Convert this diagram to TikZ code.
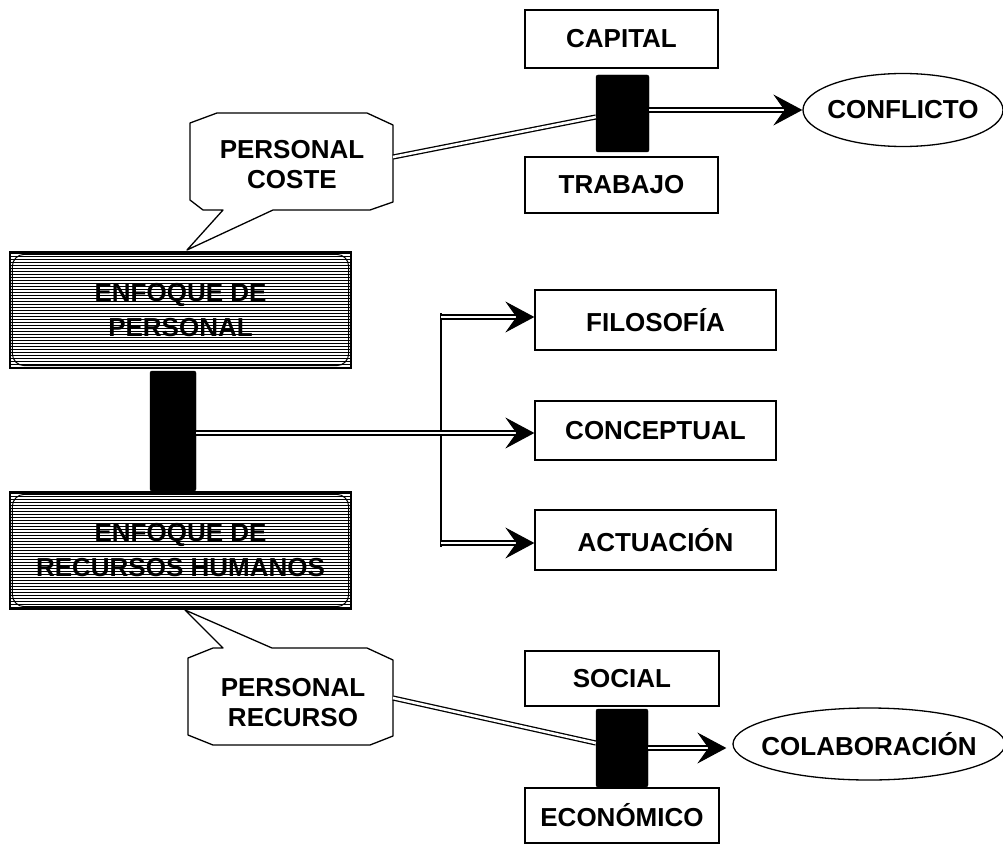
\documentclass[tikz,border=0pt]{standalone}
\usepackage{fontspec}
\setmainfont{Liberation Sans}
\usetikzlibrary{shapes.geometric,arrows.meta}

\tikzset{
  lbl/.style={font=\bfseries\fontsize{26pt}{30pt}\selectfont, align=center},
  box/.style={lbl, draw, line width=1.3pt, inner sep=0pt},
  oval/.style={lbl, draw, ellipse, line width=1.3pt, inner ysep=0pt},
  bar/.style={fill=black, draw=black, rounded corners=2pt, inner sep=0pt},
  striped/.style={lbl, font=\bfseries\fontsize{26pt}{35pt}\selectfont,
    draw, line width=1.3pt, fill=white, inner sep=0pt,
    path picture={
      \foreach \k in {0,...,39}{
        \draw[line width=1.8pt]
          ([yshift=-\k*3pt-1.5pt]path picture bounding box.north west) --
          ([yshift=-\k*3pt-1.5pt]path picture bounding box.north east);
      }
    }},
  dbl/.style={draw=black, line width=1.3pt, double=white, double distance=2.6pt},
  tipline/.style={line width=1pt, -{Stealth[length=29pt,width=31pt,inset=11pt]}},
  callout/.style={draw, line width=1.3pt, fill=white, line join=round},
}

\begin{document}
\begin{tikzpicture}[x=1pt,y=-1pt]
\useasboundingbox (0,0) rectangle (1003,845);

% ---- upper branch: capital / trabajo -> conflicto
\node[box, minimum width=193pt, minimum height=58pt] (capital) at (621.5,39) {CAPITAL};
\node[box, minimum width=193pt, minimum height=56pt] (trabajo) at (621.5,185) {TRABAJO};
\node[bar, minimum width=53pt, minimum height=77pt] (bar1) at (622.5,113.5) {};
\node[oval, inner xsep=-6pt, minimum width=200pt, minimum height=73pt] (conflicto) at (903,110) {CONFLICTO};

% ---- callout "personal coste"
\draw[callout] (217,113) -- (367,113) -- (393,125) -- (393,202) -- (370,210)
  -- (273,210) -- (187,250) -- (223,210) -- (203,210) -- (190,200)
  -- (190,123) -- cycle;
\node[lbl] (coste) at (292,165) {PERSONAL\\COSTE};
\coordinate (c1r) at (393,157);

% ---- striped boxes
\node[striped, minimum width=341pt, minimum height=116pt] (enf1) at (180.5,310) {ENFOQUE DE\\PERSONAL};
\draw[line width=1pt, rounded corners=12pt]
  ([shift={(3pt,-3pt)}]enf1.north west) rectangle ([shift={(-3pt,3pt)}]enf1.south east);
\node[bar, minimum width=46pt, minimum height=120pt] (bar2) at (173,431) {};
\node[striped, minimum width=341pt, minimum height=117pt] (enf2) at (180.5,550.5) {ENFOQUE DE\\RECURSOS HUMANOS};
\draw[line width=1pt, rounded corners=12pt]
  ([shift={(3pt,-3pt)}]enf2.north west) rectangle ([shift={(-3pt,3pt)}]enf2.south east);

% ---- middle branch
\node[box, minimum width=241pt, minimum height=60pt] (filosofia) at (655.5,320) {FILOSOFÍA};
\node[box, minimum width=241pt, minimum height=59pt] (conceptual) at (655.5,430.5) {CONCEPTUAL};
\node[box, minimum width=241pt, minimum height=60pt] (actuacion) at (655.5,540) {ACTUACIÓN};

\coordinate (a1) at ([yshift=3pt]filosofia.west);
\coordinate (a2) at ([yshift=-2.5pt]conceptual.west);
\coordinate (a3) at ([yshift=-3pt]actuacion.west);
\coordinate (vt) at (441,317);
\coordinate (vb) at (441,543);

\draw[line width=2.6pt] ([yshift=4pt]vt) -- ([yshift=-4pt]vb);
\draw[dbl] (vt) -- ([xshift=-16pt]a1);
\draw[tipline] ([xshift=-17pt]a1) -- (a1);
\draw[dbl] (bar2.east |- a2) -- ([xshift=-16pt]a2);
\draw[tipline] ([xshift=-17pt]a2) -- (a2);
\draw[dbl] (vb) -- ([xshift=-16pt]a3);
\draw[tipline] ([xshift=-17pt]a3) -- (a3);

% ---- callout "personal recurso"
\draw[callout] (213,648) -- (223,648) -- (185,610) -- (272,648) -- (367,648)
  -- (393,660) -- (393,736) -- (370,745) -- (213,745) -- (188,735)
  -- (188,658) -- cycle;
\node[lbl] (recurso) at (293,703) {PERSONAL\\RECURSO};
\coordinate (c2r) at (393,698);

% ---- lower branch: social / economico -> colaboracion
\node[box, minimum width=194pt, minimum height=55pt] (social) at (622,678.5) {SOCIAL};
\node[box, minimum width=194pt, minimum height=55pt] (economico) at (622,815.5) {ECONÓMICO};
\node[bar, minimum width=52pt, minimum height=78pt] (bar3) at (622,748) {};
\node[oval, inner xsep=-15pt, minimum width=272pt, minimum height=72pt] (colab) at (869,744) {COLABORACIÓN};

% ---- connectors
\draw[dbl] (c1r) -- ([yshift=-3.5pt]bar1.west);
\coordinate (t1) at (conflicto.west);
\draw[dbl] (bar1.east |- t1) -- ([xshift=-16pt]t1);
\draw[tipline] ([xshift=-17pt]t1) -- (t1);

\draw[dbl] (c2r) -- ([yshift=5pt]bar3.west);
\coordinate (t3) at ([xshift=-6pt]colab.west |- bar3.east);
\draw[dbl] (bar3.east) -- ([xshift=-16pt]t3);
\draw[tipline] ([xshift=-17pt]t3) -- (t3);
\end{tikzpicture}
\end{document}
